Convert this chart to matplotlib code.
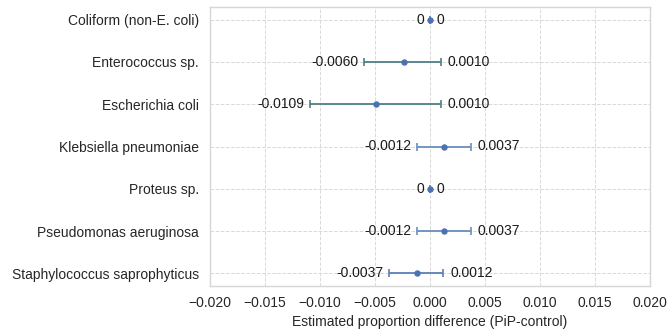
import matplotlib
matplotlib.use("Agg")
import matplotlib.pyplot as plt

categories = ["Coliform (non-E. coli)", "Enterococcus sp.", "Escherichia coli",
              "Klebsiella pneumoniae", "Proteus sp.", "Pseudomonas aeruginosa",
              "Staphylococcus saprophyticus"]
estimate = [0.0, -0.0024, -0.0049, 0.0013, 0.0, 0.0013, -0.0012]
lower = [0.0, -0.0060, -0.0109, -0.0012, 0.0, -0.0012, -0.0037]
upper = [0.0, 0.0010, 0.0010, 0.0037, 0.0, 0.0037, 0.0012]
lower_labels = ["0", "-0.0060", "-0.0109", "-0.0012", "0", "-0.0012", "-0.0037"]
upper_labels = ["0", "0.0010", "0.0010", "0.0037", "0", "0.0037", "0.0012"]
bar_colors = ["#6a8dbf", "#4f7f86", "#4f7f86", "#6a8dbf", "#6a8dbf", "#6a8dbf", "#5a80b8"]
xticks = [-0.020, -0.015, -0.010, -0.005, 0.000, 0.005, 0.010, 0.015, 0.020]

plt.rcParams['font.family'] = ['Liberation Sans', 'DejaVu Sans']
fig = plt.figure(figsize=(6.69, 3.31), dpi=100)
ax = fig.add_axes([210/669, 1-286/331, 440/669, 279/331])

for i, cat in enumerate(categories):
    y = i
    ax.errorbar([estimate[i]], [y], xerr=[[estimate[i]-lower[i]], [upper[i]-estimate[i]]],
                fmt='o', color='#4c72b0', ecolor=bar_colors[i], elinewidth=1.3,
                capsize=3, capthick=1.2, markersize=3.6, zorder=3)
    ax.annotate(lower_labels[i], xy=(lower[i], y), xytext=(-4, 0), textcoords='offset points',
                ha='right', va='center', fontsize=10, color='#1a1a1a')
    ax.annotate(upper_labels[i], xy=(upper[i], y), xytext=(5, 0), textcoords='offset points',
                ha='left', va='center', fontsize=10, color='#1a1a1a')

ax.set_yticks(range(len(categories)))
ax.set_yticklabels(categories, fontsize=10, color='#262626')
ax.set_ylim(len(categories) - 0.7, -0.3)
ax.set_xlim(-0.02, 0.02)
ax.set_xticks(xticks)
ax.set_xticklabels([f"{t:.3f}".replace("-", "\u2212") for t in xticks], fontsize=10, color='#262626')
ax.set_xlabel("Estimated proportion difference (PiP-control)", fontsize=10, color='#262626')
ax.grid(True, linestyle='--', color='#d9d9d9', linewidth=0.7)
ax.set_axisbelow(True)
ax.tick_params(axis='y', length=0, pad=8)
ax.tick_params(axis='x', length=0, pad=7)
for s in ax.spines.values():
    s.set_color('#d6d6d6')
    s.set_linewidth(1.0)

fig.savefig("out.png", dpi=100)
